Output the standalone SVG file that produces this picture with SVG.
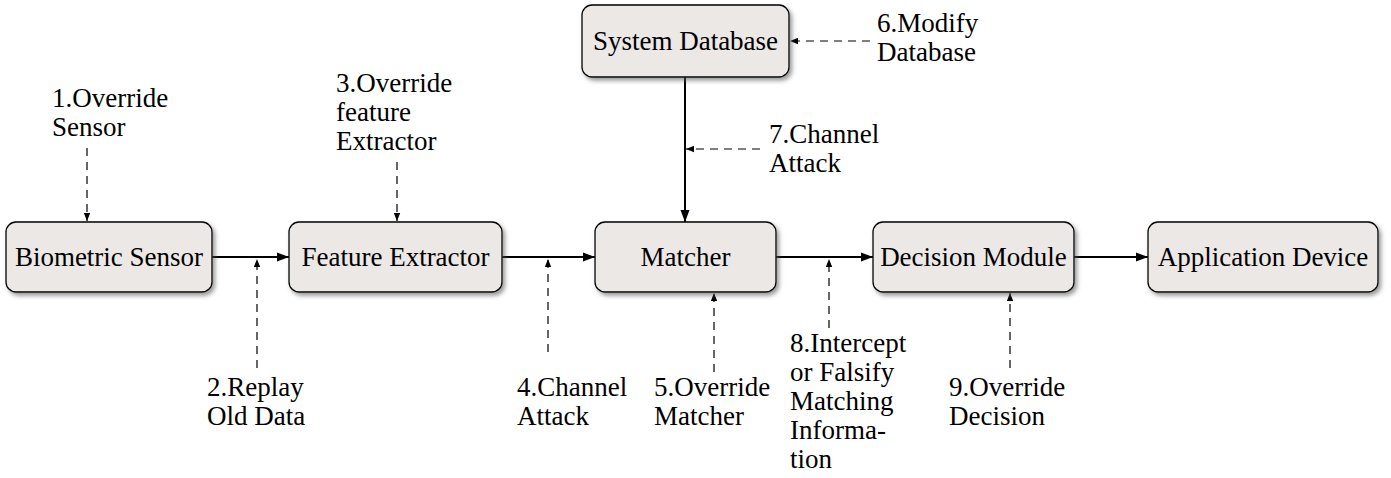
<svg xmlns="http://www.w3.org/2000/svg" width="1391" height="478" viewBox="0 0 1391 478">
<style>
.box{fill:#ebe8e6;stroke:#000;stroke-width:1.3;filter:url(#sh)}
text{font-family:"Liberation Serif","Times New Roman",serif;font-size:27px;fill:#000}
.c{text-anchor:middle}
.main{stroke:#000;stroke-width:2;fill:none;marker-end:url(#ah)}
.dash{stroke:#000;stroke-width:1.2;fill:none;stroke-dasharray:8 6;marker-end:url(#ahs)}
</style>
<defs>
<filter id="sh" x="-10%" y="-20%" width="125%" height="150%">
<feDropShadow dx="2.5" dy="3" stdDeviation="2" flood-color="#555" flood-opacity="0.6"/>
</filter>
<marker id="ah" markerUnits="userSpaceOnUse" viewBox="0 0 12 10" refX="12" refY="5" markerWidth="12" markerHeight="10" orient="auto">
<path d="M0,0.5 L12,5 L0,9.5 Z" fill="#000"/>
</marker>
<marker id="ahs" markerUnits="userSpaceOnUse" viewBox="0 0 8 7" refX="8" refY="3.5" markerWidth="8" markerHeight="7" orient="auto">
<path d="M0,0.3 L8,3.5 L0,6.7 Z" fill="#000"/>
</marker>
</defs>

<g id="connectors">
<line class="main" x1="212" y1="257" x2="289" y2="257"/>
<line class="main" x1="502" y1="257" x2="595" y2="257"/>
<line class="main" x1="776" y1="257" x2="873" y2="257"/>
<line class="main" x1="1074" y1="257" x2="1148" y2="257"/>
<line class="main" x1="685" y1="77" x2="685" y2="222"/>
<line class="dash" x1="87" y1="148" x2="87" y2="221"/>
<line class="dash" x1="257" y1="368" x2="257" y2="259"/>
<line class="dash" x1="397" y1="162" x2="397" y2="221"/>
<line class="dash" x1="548" y1="352" x2="548" y2="259"/>
<line class="dash" x1="714" y1="372" x2="714" y2="293"/>
<line class="dash" x1="870" y1="41" x2="790" y2="41"/>
<line class="dash" x1="760" y1="149" x2="686" y2="149"/>
<line class="dash" x1="829" y1="328" x2="829" y2="259"/>
<line class="dash" x1="1010" y1="368" x2="1010" y2="293"/>
</g>

<g id="biometric-sensor">
<rect class="box" x="6" y="222" width="206" height="70" rx="10"/>
<text class="c" x="109" y="266">Biometric Sensor</text>
</g>
<g id="feature-extractor">
<rect class="box" x="289" y="222" width="213" height="70" rx="10"/>
<text class="c" x="395.5" y="266">Feature Extractor</text>
</g>
<g id="matcher">
<rect class="box" x="595" y="222" width="181" height="70" rx="10"/>
<text class="c" x="685.5" y="266">Matcher</text>
</g>
<g id="decision-module">
<rect class="box" x="873" y="222" width="201" height="70" rx="10"/>
<text class="c" x="973.5" y="266">Decision Module</text>
</g>
<g id="application-device">
<rect class="box" x="1148" y="222" width="230" height="70" rx="10"/>
<text class="c" x="1263" y="266">Application Device</text>
</g>
<g id="system-database">
<rect class="box" x="582" y="5" width="207" height="72" rx="10"/>
<text class="c" x="685.5" y="50">System Database</text>
</g>

<g id="labels">
<text x="52" y="107">1.Override</text>
<text x="52" y="136">Sensor</text>
<text x="207" y="396">2.Replay</text>
<text x="207" y="425">Old Data</text>
<text x="336" y="92">3.Override</text>
<text x="336" y="121">feature</text>
<text x="336" y="150">Extractor</text>
<text x="517" y="396">4.Channel</text>
<text x="517" y="425">Attack</text>
<text x="654" y="396">5.Override</text>
<text x="654" y="425">Matcher</text>
<text x="877" y="32">6.Modify</text>
<text x="877" y="61">Database</text>
<text x="769" y="143">7.Channel</text>
<text x="769" y="172">Attack</text>
<text x="790" y="352">8.Intercept</text>
<text x="790" y="381">or Falsify</text>
<text x="790" y="410">Matching</text>
<text x="790" y="439">Informa-</text>
<text x="790" y="468">tion</text>
<text x="949" y="396">9.Override</text>
<text x="949" y="425">Decision</text>
</g>
</svg>
